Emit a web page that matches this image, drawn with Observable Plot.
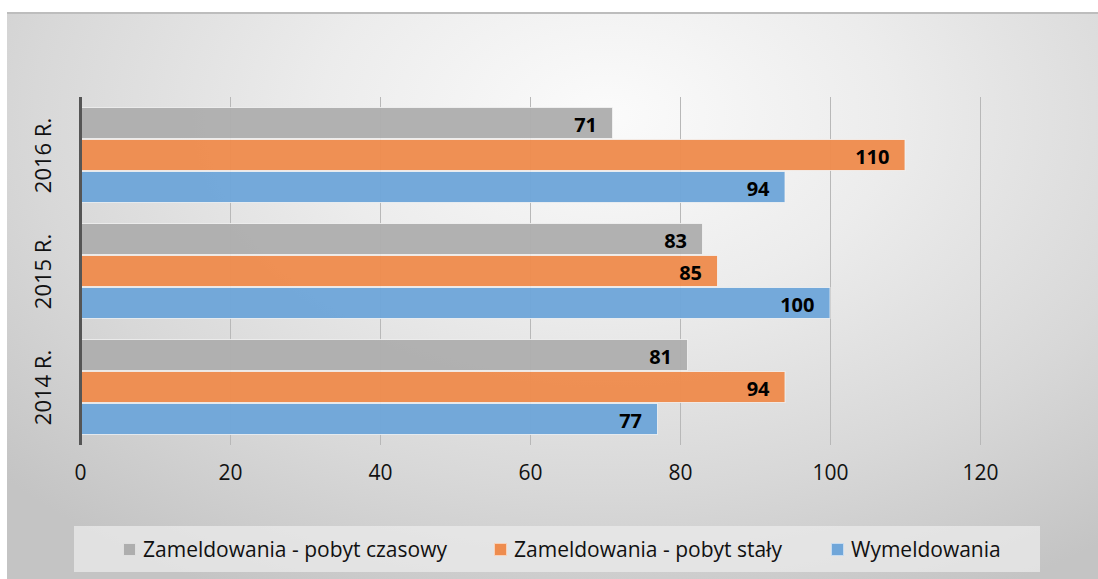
<!DOCTYPE html>
<html>
<head>
<meta charset="utf-8">
<script src="https://cdn.jsdelivr.net/npm/d3@7"></script>
<script src="https://cdn.jsdelivr.net/npm/@observablehq/plot@0.6"></script>
<style>
  html, body { margin: 0; padding: 0; background: #ffffff; }
  #panel {
    position: absolute; left: 7px; top: 12px; width: 1091px; height: 567px;
    border-top: 2px solid #bdbdbd; box-sizing: border-box;
    background: radial-gradient(ellipse 75% 95% at 55% 18%, #fbfbfb 0%, #ececec 35%, #d8d8d8 70%, #c4c4c4 100%);
    font-family: "Open Sans", sans-serif;
  }
  #chart { position: absolute; left: 0; top: -2px; }
  #legend {
    position: absolute; left: 67px; top: 512px; width: 966px; height: 46px;
    background: rgba(235,235,235,0.75);
    display: flex; align-items: center; font-size: 21px; color: #111;
  }
  .item { position: absolute; display: flex; align-items: center; white-space: nowrap; }
  .sw { width: 11px; height: 11px; margin-right: 7px; border: 1px solid rgba(255,255,255,0.6); }
</style>
</head>
<body>
<div id="panel">
  <div id="chart"></div>
  <div id="legend"></div>
</div>
<script>
const years = ["2016 R.", "2015 R.", "2014 R."];
const series = ["Zameldowania - pobyt czasowy", "Zameldowania - pobyt stały", "Wymeldowania"];
const colors = ["#aeaeae", "#ee8c4e", "#70a6d9"];
const czasowy = [71, 83, 81];
const staly = [110, 85, 94];
const wymeldowania = [94, 100, 77];
const xTicks = [0, 20, 40, 60, 80, 100, 120];

const seriesValues = [czasowy, staly, wymeldowania];
const data = [];
years.forEach((yr, i) => {
  series.forEach((s, j) => data.push({ year: yr, series: s, value: seriesValues[j][i] }));
});

const chart = Plot.plot({
  width: 1091,
  height: 490,
  marginLeft: 73,
  marginRight: 118,
  marginTop: 85,
  marginBottom: 57,
  style: { background: "transparent", fontFamily: "Open Sans, sans-serif", fontSize: "21px", color: "#111" },
  x: { domain: [0, 120], ticks: xTicks, label: null },
  y: { domain: series, paddingInner: 0, paddingOuter: 0.31, axis: null },
  fy: { domain: years, padding: 0, label: null },
  color: { domain: series, range: colors },
  marks: [
    Plot.gridX(xTicks.slice(1), { stroke: "#b8b8b8", strokeOpacity: 1, strokeWidth: 1 }),
    Plot.barX(data, {
      x: "value", y: "series", fy: "year", fill: "series",
      stroke: "#f4f4f4", strokeWidth: 1, strokeOpacity: 0.8, insetTop: 0.5, insetBottom: 0.5, fillOpacity: 0.97
    }),
    Plot.text(data, {
      x: "value", y: "series", fy: "year", text: d => String(d.value),
      textAnchor: "end", dx: -16, dy: 2, fontWeight: "bold", fontSize: 20, fill: "#000"
    }),
    Plot.ruleX([0], { stroke: "#555555", strokeWidth: 3 }),
    Plot.axisX({ ticks: xTicks, tickSize: 0, tickPadding: 20, fontSize: 21, label: null }),
    Plot.text(years, { fy: d => d, text: d => d, frameAnchor: "left", dx: -37, rotate: -90, textAnchor: "middle", fontSize: 22, fill: "#111" }),
    Plot.axisFy({ ticks: [], label: null })
  ]
});
document.getElementById("chart").appendChild(chart);

const legend = document.getElementById("legend");
const positions = [49, 420, 757];
series.forEach((s, j) => {
  const it = document.createElement("div");
  it.className = "item";
  it.style.left = positions[j] + "px";
  const sw = document.createElement("span");
  sw.className = "sw";
  sw.style.background = colors[j];
  const tx = document.createElement("span");
  tx.textContent = s;
  it.appendChild(sw); it.appendChild(tx);
  legend.appendChild(it);
});
</script>
</body>
</html>
